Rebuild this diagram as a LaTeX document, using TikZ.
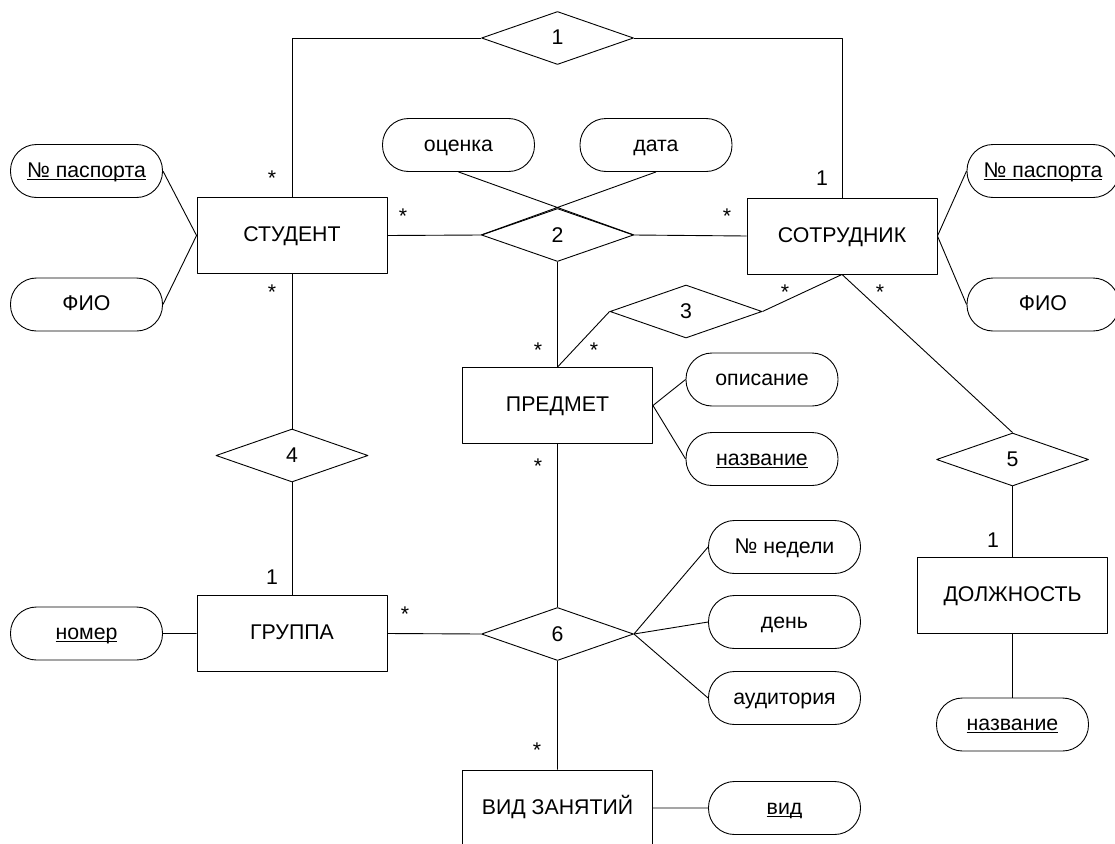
\documentclass[tikz,border=0pt]{standalone}
\usepackage{fontspec}
\setmainfont{Liberation Sans}
\usetikzlibrary{shapes.geometric}
\newcommand\keyname[1]{\setbox0\hbox{#1}\rlap{\rule[-2.6pt]{\wd0}{1.1pt}}\box0}
\begin{document}
\begin{tikzpicture}[x=1pt, y=-1pt, line width=0.9pt, line join=round, font=\fontsize{21.3}{25}\selectfont]
	\tikzset{ent/.style={draw, rectangle, minimum width=190pt, minimum height=76pt, inner sep=0, text height=16pt, text depth=4pt},
		rel/.style={draw, diamond, minimum width=152pt, minimum height=53pt, inner sep=0, text height=17pt, text depth=3pt},
		attr/.style={draw, rectangle, rounded corners=26pt, minimum width=152pt, minimum height=53pt, inner sep=0, text height=16pt, text depth=4pt},
		card/.style={anchor=base, inner sep=0}}
	\useasboundingbox (0,0) rectangle (1115,843);
	% entities
	\node[ent] (student) at (292,235.5) {СТУДЕНТ};
	\node[ent] (staff) at (842,236) {СОТРУДНИК};
	\node[ent] (subject) at (557.5,405.5) {ПРЕДМЕТ};
	\node[ent] (group) at (292,633.5) {ГРУППА};
	\node[ent] (post) at (1012.5,595.5) {ДОЛЖНОСТЬ};
	\node[ent] (kind) at (557.5,808) {ВИД ЗАНЯТИЙ};
	% relations
	\foreach \p/\n in {(557.5,38)/1, (557.5,235)/2, (686,311.5)/3, (292,455.5)/4, (1012.5,459.5)/5, (557.5,634)/6}
		\node[rel] (r\n) at \p {\n};
	% attributes
	\foreach \p/\n/\t in {(86.5,171)/pass1/\keyname{№ паспорта}, (86.5,304.5)/fio1/ФИО, (458.5,145)/mark/оценка, (656,145)/date/дата,
		(1043,171)/pass2/\keyname{№ паспорта}, (1043,304.5)/fio2/ФИО, (762,379.5)/descr/описание, (762,459)/sname/\keyname{название},
		(784.5,547)/week/№ недели, (784.5,622)/day/день, (784.5,698)/room/аудитория, (784.5,808)/kname/\keyname{вид},
		(86.5,633.5)/num/\keyname{номер}, (1012.5,724.5)/pname/\keyname{название}}
		\node[attr] (\n) at \p {\t};
	% connectors
	\draw (student.north) |- (r1.west) (r1.east) -| (staff.north);
	\draw (student.east) -- (r2.west) (r2.east) -- (staff.west) (r2.south) -- (subject.north);
	\draw (mark.south) -- (r2.east) (date.south) -- (r2.west);
	\draw (subject.north) -- (r3.west) (r3.east) -- (staff.south) -- (r5.north);
	\draw (r5.south) -- (post.north) (post.south) -- (pname.north);
	\draw (student.south) -- (r4.north) (r4.south) -- (group.north);
	\draw (group.east) -- (r6.west) (subject.south) -- (r6.north) (r6.south) -- (kind.north);
	\draw (pass1.east) -- (student.west) -- (fio1.east) (pass2.west) -- (staff.east) -- (fio2.west);
	\draw (descr.west) -- (subject.east) -- (sname.west) (num.east) -- (group.west) (kind.east) -- (kname.west);
	\foreach \a in {week,day,room} \draw (r6.east) -- (\a.west);
	% cardinalities
	\foreach \x/\y/\t [count=\i] in {272/185/*, 272/299/*, 403/223/*, 727/223/*, 785/299/*, 880/299/*, 538/357/*, 594/357/*,
		538/473/*, 405/621/*, 537/757/*, 822/185/1, 272/584/1, 993/547/1}
		\node[card] (card\i) at (\x,\y) {\t};
\end{tikzpicture}
\end{document}
